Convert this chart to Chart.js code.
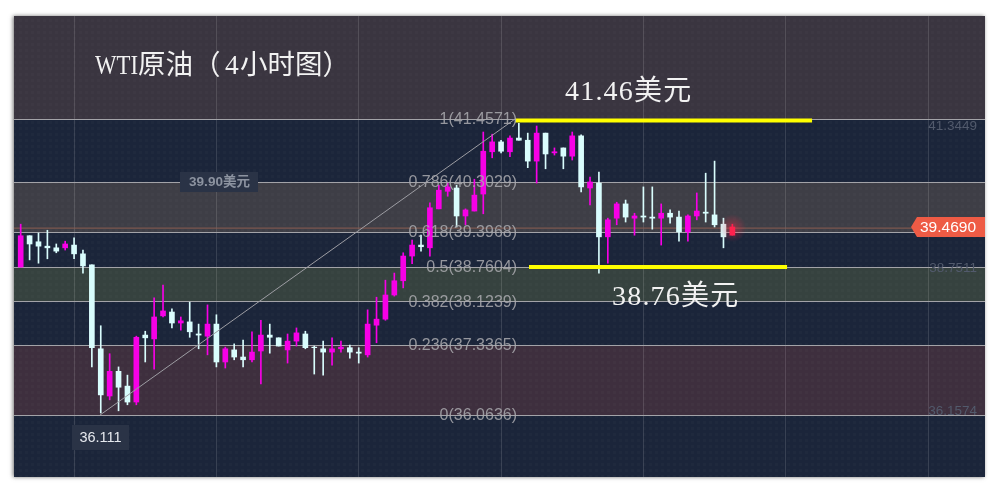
<!DOCTYPE html>
<html>
<head>
<meta charset="utf-8">
<script src="https://cdn.jsdelivr.net/npm/chart.js@4"></script>
<style>
html,body{margin:0;padding:0;background:#fff;overflow:hidden}
canvas{display:block}
</style>
</head>
<body>
<canvas id="data_chart" width="998" height="493"></canvas>
<script>
// candles, oldest first
const opens=[38.76,39.33,39.22,39.14,39.11,39.11,39.16,39.00,38.80,37.27,36.41,36.86,36.59,36.30,37.52,37.45,37.87,37.94,37.74,37.76,37.54,37.50,37.72,37.03,37.25,37.12,37.07,37.23,37.52,37.47,37.25,37.41,37.54,37.30,37.27,37.21,37.27,37.29,37.21,37.16,37.70,37.81,38.25,38.51,38.96,39.16,39.11,39.82,40.14,40.20,39.69,39.78,40.09,40.86,41.04,40.86,41.11,41.07,40.69,41.20,40.84,40.93,40.78,41.15,40.20,40.29,39.31,39.65,39.91,39.65,39.69,39.67,39.65,39.74,39.67,39.40,39.69,39.76,39.71,39.54,39.34]
const highs=[39.54,39.33,39.38,39.43,39.18,39.23,39.29,39.07,38.80,37.69,37.18,36.94,36.79,37.50,37.59,38.20,38.43,38.00,37.85,38.12,37.72,38.07,37.89,37.30,37.36,37.43,37.58,37.79,37.72,37.47,37.54,37.65,37.59,37.32,37.41,37.47,37.41,37.34,37.29,37.98,38.21,38.52,38.65,39.02,39.25,39.34,39.93,40.25,40.29,40.25,39.82,40.36,41.22,41.18,41.07,41.15,41.38,41.20,41.33,41.20,40.93,40.93,41.22,41.17,40.40,40.49,39.65,39.94,39.98,39.74,40.22,40.22,39.91,39.80,39.78,39.71,40.11,40.47,40.69,39.65,39.54]
const lows=[38.76,38.89,38.83,38.91,39.02,39.07,38.91,38.65,36.94,36.10,36.34,36.14,36.25,36.25,37.03,36.90,37.85,37.65,37.61,37.48,37.27,37.16,36.94,36.92,37.07,36.94,37.03,36.63,37.19,37.32,37.01,37.32,37.27,36.81,36.79,36.97,37.21,37.10,37.01,37.12,37.38,37.79,38.23,38.38,38.82,39.05,38.96,39.82,40.05,39.49,39.53,39.78,39.73,40.75,40.84,40.77,41.07,40.57,40.29,40.55,40.80,40.55,40.71,40.13,39.89,38.65,38.83,39.53,39.58,39.34,39.58,39.45,39.16,39.56,39.23,39.23,39.62,39.58,39.49,39.11,39.34]
const closes=[39.33,39.18,39.14,39.11,39.05,39.18,39.00,38.78,37.29,36.43,36.86,36.57,36.30,37.48,37.47,37.85,37.96,37.74,37.78,37.58,37.52,37.72,37.03,37.27,37.12,37.07,37.21,37.52,37.48,37.32,37.41,37.56,37.29,37.29,37.21,37.27,37.30,37.21,37.19,37.72,37.81,38.25,38.51,38.96,39.16,39.13,39.84,40.16,40.22,39.69,39.80,40.07,40.87,41.04,40.87,41.11,41.07,40.69,41.20,40.82,40.86,40.78,41.15,40.22,40.31,39.31,39.62,39.91,39.67,39.69,39.67,39.65,39.74,39.67,39.40,39.69,39.78,39.74,39.53,39.31,39.49]

// fibonacci levels
const fibNames=["0","0.236","0.382","0.5","0.618","0.786","1"]
const fibPrices=[36.0636,37.3365,38.1239,38.7604,39.3968,40.3029,41.4571]
const fibLabels=["0(36.0636)","0.236(37.3365)","0.382(38.1239)","0.5(38.7604)","0.618(39.3968)","0.786(40.3029)","1(41.4571)"]
const sideLabels=["41.3449","38.7511","36.1574"]
const lastPrice=39.469
const lastLabel="39.4690"

// drawn lines, x in candle numbers
const trendX=[8.92,55.57]
const trendY=[36.0636,41.4571]
const topLineX=[55.57,88.96]
const topLineY=[41.43,41.43]
const midLineX=[57.14,86.15]
const midLineY=[38.7604,38.7604]

const xMin=-0.753
const xMax=108.4
const yMin=34.934
const yMax=43.334
const gridCandles=[6,22,38,54,70,86,102]

const UP='#f700e6'
const DOWN='#d9fdfd'
const LAST='#ff1f52'
const barColors=opens.map((o,i)=>{
  if(i==opens.length-1) return LAST
  return closes[i]>=o ? UP : DOWN
})

function linePoints(xs,ys){
  return xs.map((x,i)=>({x:x,y:ys[i]}))
}

function makeDots(){
  const c=document.createElement('canvas')
  c.width=6
  c.height=6
  const g=c.getContext('2d')
  g.fillStyle='rgba(255,255,255,0.018)'
  g.fillRect(1,1,3,3)
  return c
}

const bandsPlugin={
  id:'bands',
  beforeDraw(chart){
    const ctx=chart.ctx
    const a=chart.chartArea
    const y=chart.scales.y
    ctx.save()
    ctx.shadowColor='rgba(0,0,0,0.55)'
    ctx.shadowBlur=4
    ctx.shadowOffsetX=-1
    ctx.fillStyle='#1b253a'
    ctx.fillRect(a.left,a.top,a.right-a.left,a.bottom-a.top)
    ctx.restore()
    const bands=[
      [yMax,fibPrices[6],'#3a3540'],
      [fibPrices[5],fibPrices[4],'#3e3e46'],
      [fibPrices[3],fibPrices[2],'#36423f'],
      [fibPrices[1],fibPrices[0],'#3e2f3e']
    ]
    ctx.save()
    bands.forEach(b=>{
      const t=y.getPixelForValue(b[0])
      const e=y.getPixelForValue(b[1])
      ctx.fillStyle=b[2]
      ctx.fillRect(a.left,t,a.right-a.left,e-t)
    })
    ctx.fillStyle=ctx.createPattern(makeDots(),'repeat')
    ctx.fillRect(a.left,a.top,a.right-a.left,a.bottom-a.top)
    ctx.restore()
  }
}

const textPlugin={
  id:'texts',
  afterDatasetsDraw(chart){
    const ctx=chart.ctx
    const a=chart.chartArea
    const x=chart.scales.x
    const y=chart.scales.y
    ctx.save()
    ctx.textBaseline='middle'

    // glow on the running candle
    const gx=x.getPixelForValue(opens.length-1)
    const gy=y.getPixelForValue(lastPrice)
    const glow=ctx.createRadialGradient(gx,gy,1,gx,gy,14)
    glow.addColorStop(0,'rgba(255,40,70,0.4)')
    glow.addColorStop(1,'rgba(255,40,70,0)')
    ctx.fillStyle=glow
    ctx.fillRect(gx-14,gy-14,28,28)

    // fib labels
    ctx.font='16px "Liberation Sans"'
    ctx.textAlign='right'
    ctx.fillStyle='rgba(170,170,175,0.85)'
    fibPrices.forEach((p,i)=>{
      ctx.fillText(fibLabels[i],517,y.getPixelForValue(p)+0.5)
    })

    // labels on the right
    ctx.font='13.5px "Liberation Sans"'
    ctx.fillStyle='#525a6c'
    sideLabels.forEach(l=>{
      ctx.fillText(l,977,y.getPixelForValue(parseFloat(l))+1)
    })

    // price tag
    const py=y.getPixelForValue(lastPrice)-1
    ctx.fillStyle='#ee5b45'
    ctx.beginPath()
    ctx.moveTo(911,py)
    ctx.lineTo(917,py-10)
    ctx.lineTo(a.right,py-10)
    ctx.lineTo(a.right,py+10)
    ctx.lineTo(917,py+10)
    ctx.closePath()
    ctx.fill()
    ctx.fillStyle='#fff'
    ctx.font='15.5px "Liberation Sans"'
    ctx.fillText(lastLabel,976,py+0.5)

    // small boxes
    ctx.fillStyle='#2a3346'
    ctx.fillRect(180,172,78,20)
    ctx.fillStyle='#8c93a0'
    ctx.font='bold 13.5px "Liberation Sans","Noto Sans CJK SC"'
    ctx.textAlign='center'
    ctx.fillText('39.90美元',219.5,182.5)
    ctx.fillStyle='#2a3346'
    ctx.fillRect(72,425,57,25)
    ctx.fillStyle='#e6e9ee'
    ctx.font='14.5px "Liberation Sans"'
    ctx.fillText('36.111',100.5,438)

    // headings
    ctx.textAlign='left'
    ctx.fillStyle='#f2f2f2'
    ctx.font='27.5px "Liberation Serif","Noto Sans CJK SC"'
    ctx.fillText('WTI',95,67,43)
    ctx.fillText('原油（',138,67)
    ctx.fillText('4',225,67)
    ctx.fillText('小时图）',240,67)
    ctx.font='28px "Liberation Serif","Noto Sans CJK SC"'
    ctx.letterSpacing='1.2px'
    ctx.fillText('41.46美元',565,93)
    ctx.fillText('38.76美元',612,298)
    ctx.restore()
  }
}

new Chart('data_chart',{
  type:'bar',
  data:{
    datasets:[
      {type:'line',data:linePoints(topLineX,topLineY),borderColor:'#ffff00',borderWidth:4,pointRadius:0,order:1},
      {type:'line',data:linePoints(midLineX,midLineY),borderColor:'#ffff00',borderWidth:4,pointRadius:0,order:1},
      {type:'line',data:linePoints(trendX,trendY),borderColor:'#9d9da3',borderWidth:1,pointRadius:0,order:2},
      {
        data:opens.map((o,i)=>({x:i,y:[o,closes[i]]})),
        backgroundColor:barColors,
        barThickness:5,
        grouped:false,
        order:3
      },
      {
        data:lows.map((l,i)=>({x:i,y:[l,highs[i]]})),
        backgroundColor:barColors,
        barThickness:1,
        grouped:false,
        order:4
      },
      {type:'line',data:linePoints([xMin,xMax],[lastPrice,lastPrice]),borderColor:'#8c5e52',borderWidth:1,pointRadius:0,order:5}
    ]
  },
  plugins:[bandsPlugin,textPlugin],
  options:{
    responsive:false,
    animation:false,
    layout:{padding:{left:14,top:16,right:13,bottom:16}},
    plugins:{legend:{display:false},tooltip:{enabled:false}},
    scales:{
      x:{
        type:'linear',
        min:xMin,
        max:xMax,
        offset:false,
        grid:{offset:false,color:'rgba(255,255,255,0.13)',drawTicks:false},
        border:{display:false},
        ticks:{display:false},
        afterBuildTicks(axis){axis.ticks=gridCandles.map(v=>({value:v}))}
      },
      y:{
        min:yMin,
        max:yMax,
        grid:{color:'#a3a3a8',drawTicks:false},
        border:{display:false},
        ticks:{display:false},
        afterBuildTicks(axis){axis.ticks=fibPrices.map(v=>({value:v}))}
      }
    }
  }
})
</script>
</body>
</html>
